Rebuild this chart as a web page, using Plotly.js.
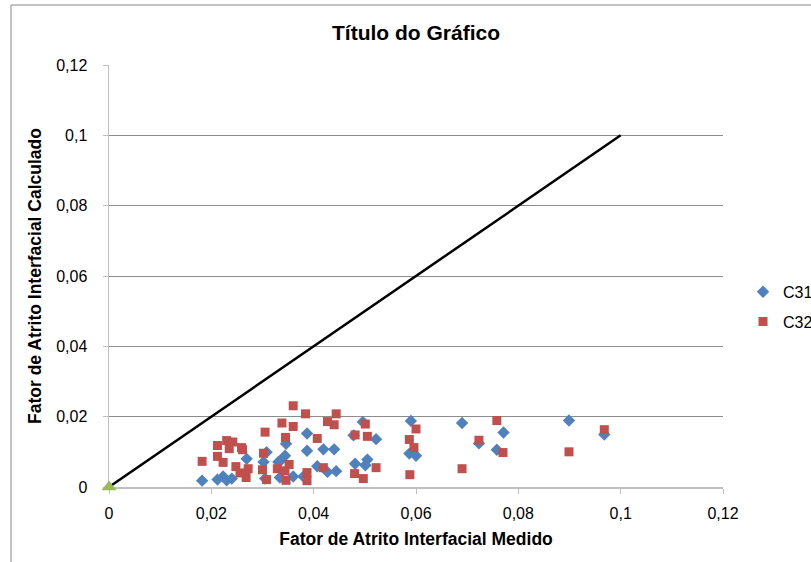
<!DOCTYPE html>
<html>
<head>
<meta charset="utf-8">
<script src="https://cdn.plot.ly/plotly-3.0.1.min.js"></script>
<style>html,body{margin:0;padding:0;background:#fff;}#chart{width:811px;height:562px;}</style>
</head>
<body>
<div id="chart"></div>
<script>
var c31X = [0.0182,0.0212,0.0223,0.0230,0.0240,0.0269,0.0302,0.0308,0.0305,0.0331,0.0334,0.0387,0.0346,0.0387,0.0419,0.0440,0.0496,0.0522,0.0590,0.0587,0.0600,0.0344,0.0334,0.0407,0.0427,0.0444,0.0481,0.0505,0.0501,0.0360,0.0380,0.0478,0.0690,0.0899,0.0771,0.0723,0.0758,0.0968];
var c31Y = [0.0018,0.0021,0.0030,0.0019,0.0024,0.0080,0.0071,0.0099,0.0024,0.0071,0.0027,0.0152,0.0123,0.0103,0.0107,0.0107,0.0185,0.0136,0.0188,0.0095,0.0089,0.0089,0.0073,0.0059,0.0043,0.0045,0.0066,0.0078,0.0062,0.0030,0.0030,0.0147,0.0182,0.0189,0.0155,0.0124,0.0106,0.0149];
var c32X = [0.0182,0.0212,0.0212,0.0230,0.0242,0.0235,0.0259,0.0261,0.0223,0.0248,0.0256,0.0272,0.0268,0.0302,0.0305,0.0300,0.0308,0.0329,0.0338,0.0360,0.0384,0.0444,0.0360,0.0427,0.0440,0.0501,0.0345,0.0407,0.0481,0.0505,0.0600,0.0587,0.0596,0.0352,0.0344,0.0387,0.0387,0.0346,0.0419,0.0480,0.0497,0.0522,0.0588,0.0758,0.0723,0.0770,0.0690,0.0899,0.0968];
var c32Y = [0.0073,0.0118,0.0087,0.0132,0.0128,0.0109,0.0112,0.0106,0.0070,0.0058,0.0040,0.0052,0.0027,0.0096,0.0156,0.0049,0.0021,0.0052,0.0182,0.0231,0.0208,0.0208,0.0172,0.0186,0.0177,0.0179,0.0141,0.0138,0.0148,0.0144,0.0165,0.0135,0.0112,0.0064,0.0046,0.0041,0.0018,0.0019,0.0055,0.0038,0.0024,0.0055,0.0035,0.0189,0.0133,0.0098,0.0052,0.0100,0.0163];
var refLineX = [0, 0.1];
var refLineY = [0, 0.1];
var originX = [0];
var originY = [0];
var tickVals = [0, 0.02, 0.04, 0.06, 0.08, 0.1, 0.12];
var tickLabels = ["0", "0,02", "0,04", "0,06", "0,08", "0,1", "0,12"];

var FONT = "Liberation Sans, Arial, sans-serif";
var traces = [
  {x: refLineX, y: refLineY, mode: 'lines', line: {color: '#000000', width: 2.5}, showlegend: false, hoverinfo: 'skip', cliponaxis: false},
  {x: c31X, y: c31Y, mode: 'markers', name: 'C31', legendgroup: 'a', marker: {symbol: 'diamond', size: 9.5, color: '#4F81BD'}},
  {x: c32X, y: c32Y, mode: 'markers', name: 'C32', legendgroup: 'b', marker: {symbol: 'square', size: 9, color: '#C0504D'}},
  {x: originX, y: originY, mode: 'markers', showlegend: false, marker: {symbol: 'triangle-up', size: 13, color: '#9BBB59', line: {width: 0}}, cliponaxis: false}
];
var layout = {
  width: 811, height: 562,
  margin: {l: 109, r: 88, t: 65, b: 75, autoexpand: false},
  paper_bgcolor: '#ffffff', plot_bgcolor: '#ffffff',
  font: {family: FONT, size: 16, color: '#000000'},
  title: {text: '<b>Título do Gráfico</b>', font: {family: FONT, size: 21, color: '#000'}, x: 0.5, xref: 'paper', xanchor: 'center', y: 1 - 33/562, yref: 'container', yanchor: 'middle'},
  xaxis: {
    range: [0, 0.12], tickvals: tickVals, ticktext: tickLabels, layer: 'below traces',
    showgrid: false, zeroline: false, showline: true, linecolor: '#BFBFBF', linewidth: 1.5,
    ticks: 'outside', ticklen: 5, tickcolor: '#BFBFBF', ticklabelstandoff: 6,
    tickfont: {family: FONT, size: 16, color: '#000'},
    title: {text: '<b>Fator de Atrito Interfacial Medido</b>', font: {family: FONT, size: 17.5, color: '#000'}, standoff: 12}
  },
  yaxis: {
    range: [0, 0.12], tickvals: tickVals, ticktext: tickLabels, layer: 'below traces',
    showgrid: true, gridcolor: '#8C8C8C', gridwidth: 1, zeroline: false,
    showline: true, linecolor: '#BFBFBF', linewidth: 1.5,
    ticks: 'outside', ticklen: 5, tickcolor: '#BFBFBF', ticklabelstandoff: 12,
    tickfont: {family: FONT, size: 16, color: '#000'},
    title: {text: '<b>Fator de Atrito Interfacial Calculado</b>', font: {family: FONT, size: 17.5, color: '#000'}, standoff: 10}
  },
  legend: {x: 1.0326, xanchor: 'left', y: 0.427, yanchor: 'middle', traceorder: 'grouped', tracegroupgap: 6, font: {family: FONT, size: 16, color: '#000'}, bgcolor: 'rgba(0,0,0,0)', itemwidth: 30},
  shapes: [
    {type: 'rect', xref: 'paper', yref: 'paper', x0: (11-109)/614, x1: (820-109)/614, y0: (487-570)/422, y1: (487-5)/422, line: {color: '#878787', width: 1}, fillcolor: 'rgba(0,0,0,0)', layer: 'below'}
  ],
  showlegend: true
};
Plotly.newPlot('chart', traces, layout, {displayModeBar: false, staticPlot: true});
</script>
</body>
</html>
